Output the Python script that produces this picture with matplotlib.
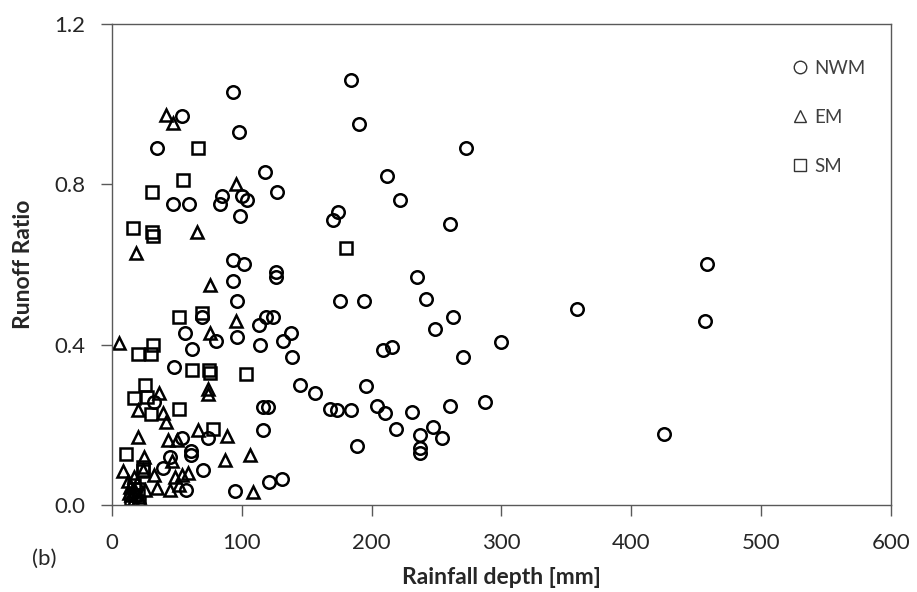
import matplotlib
matplotlib.use('Agg')
import matplotlib.pyplot as plt
from matplotlib.lines import Line2D

plt.rcParams['font.family'] = ['Lato', 'DejaVu Sans']

# NWM (circles)
nwm_x = [93, 184, 54, 190, 98, 35, 273, 118, 212, 127, 222, 85, 83, 59, 47, 104, 100, 99, 174, 170,
         260, 93, 102, 458, 126, 126, 235, 93, 242, 176, 194, 96, 358, 263, 119, 124, 457, 113, 249, 56,
         138, 96, 80, 132, 300, 114, 216, 209, 62, 139, 270, 48, 145, 196, 156, 287, 116, 120, 168, 173,
         184, 204, 210, 231, 260, 116, 219, 247, 254, 425, 74, 54, 189, 237, 237, 237, 61, 61, 45, 39,
         70, 57, 95, 121, 131, 69, 32]
nwm_y = [1.03, 1.06, 0.97, 0.95, 0.93, 0.89, 0.89, 0.83, 0.82, 0.78, 0.76, 0.77, 0.75, 0.75, 0.75, 0.76, 0.77, 0.72, 0.73, 0.71,
         0.70, 0.61, 0.60, 0.60, 0.58, 0.57, 0.57, 0.56, 0.515, 0.51, 0.51, 0.51, 0.49, 0.47, 0.47, 0.47, 0.46, 0.45, 0.44, 0.43,
         0.43, 0.42, 0.41, 0.41, 0.407, 0.40, 0.394, 0.386, 0.39, 0.37, 0.37, 0.345, 0.30, 0.297, 0.28, 0.257, 0.245, 0.245, 0.24, 0.237,
         0.237, 0.247, 0.23, 0.232, 0.247, 0.187, 0.19, 0.195, 0.167, 0.177, 0.167, 0.167, 0.147, 0.175, 0.142, 0.13, 0.135, 0.125, 0.12, 0.092,
         0.087, 0.037, 0.035, 0.057, 0.065, 0.47, 0.257]

# EM (triangles)
em_x = [42, 47, 95.5, 65.5, 18.5, 75.5, 95.5, 75.5, 5.4, 74, 74, 36, 20, 39, 42, 20, 66, 88.5, 43, 50,
        106, 87, 25, 46, 8.5, 32, 48.5, 54, 58.5, 35, 45, 52, 25.4, 109, 24, 12, 14, 15, 16, 18,
        19, 21, 22, 13, 17]
em_y = [0.973, 0.953, 0.80, 0.68, 0.628, 0.55, 0.46, 0.43, 0.405, 0.29, 0.277, 0.28, 0.237, 0.23, 0.207, 0.17, 0.187, 0.172, 0.162, 0.162,
        0.125, 0.112, 0.12, 0.11, 0.085, 0.075, 0.07, 0.075, 0.08, 0.043, 0.037, 0.05, 0.037, 0.032, 0.087, 0.06, 0.045, 0.025, 0.01, 0.035,
        0.055, 0.02, 0.005, 0.03, 0.07]

# SM (squares)
sm_x = [66, 54.5, 31, 16, 31, 31.5, 180, 52, 69, 31.8, 20, 30, 61.5, 75, 75.5, 103, 25.5, 17, 27, 30,
        51.6, 78, 11, 24, 24, 15, 18, 20, 21, 17]
sm_y = [0.89, 0.81, 0.78, 0.69, 0.68, 0.67, 0.64, 0.47, 0.48, 0.40, 0.376, 0.376, 0.337, 0.337, 0.33, 0.327, 0.30, 0.267, 0.27, 0.227,
        0.24, 0.19, 0.127, 0.095, 0.085, 0.015, 0.025, 0.04, 0.005, 0.05]

axis_col = '#595959'
text_col = '#262626'

fig = plt.figure(figsize=(9.17, 5.92), dpi=100)
ax = fig.add_axes([0.1221, 0.147, 0.8495, 0.8125])

ax.plot(nwm_x, nwm_y, linestyle='none', marker='o', markersize=9, mfc='none', mec='black', mew=1.8)
ax.plot(em_x, em_y, linestyle='none', marker='^', markersize=9, mfc='none', mec='black', mew=1.8)
ax.plot(sm_x, sm_y, linestyle='none', marker='s', markersize=8.3, mfc='none', mec='black', mew=1.8)

ax.set_xlim(0, 600)
ax.set_ylim(0, 1.2)
ax.set_xticks(range(0, 601, 100))
ax.set_yticks([0, 0.4, 0.8, 1.2])
ax.set_yticklabels(['0.0', '0.4', '0.8', '1.2'])
ax.tick_params(direction='out', length=8, width=1, color=axis_col, labelsize=16,
               labelcolor=text_col)
ax.tick_params(axis='x', pad=12)
ax.tick_params(axis='y', pad=11)
for s in ax.spines.values():
    s.set_color(axis_col)
    s.set_linewidth(1)

ax.set_xlabel('Rainfall depth [mm]', fontsize=16.5, fontweight='bold', color=text_col, labelpad=10)
ax.set_ylabel('Runoff Ratio', fontsize=16.5, fontweight='bold', color=text_col, labelpad=15)
fig.text(44 / 917, 1 - 559 / 592, '(b)', fontsize=16, color=text_col, ha='center', va='center')

handles = [
    Line2D([], [], linestyle='none', marker='o', markersize=9, mfc='none', mec='#333333', mew=1),
    Line2D([], [], linestyle='none', marker='^', markersize=8, mfc='none', mec='#333333', mew=1),
    Line2D([], [], linestyle='none', marker='s', markersize=8, mfc='none', mec='#333333', mew=1),
]
ax.legend(handles, ['NWM', 'EM', 'SM'], loc='upper left', bbox_to_anchor=(792 / 917, 1 - 60 / 592),
          bbox_transform=fig.transFigure, frameon=False, fontsize=13.5, handlelength=0.8,
          handletextpad=0.4, labelspacing=1.7, borderpad=0, borderaxespad=0,
          labelcolor='#404040')

fig.savefig('out.png', dpi=100)
